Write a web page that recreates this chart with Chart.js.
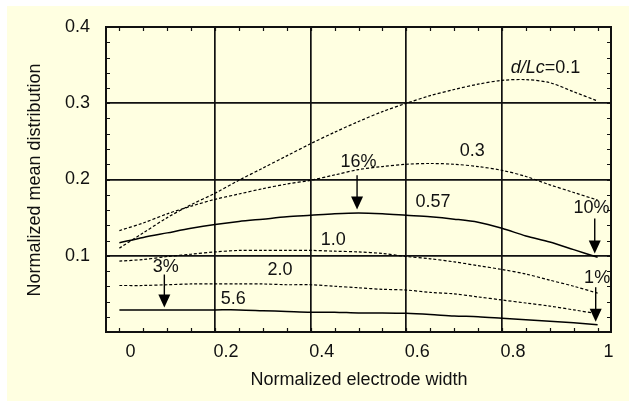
<!DOCTYPE html>
<html>
<head>
<meta charset="utf-8">
<script src="https://cdn.jsdelivr.net/npm/chart.js@4.4.1/dist/chart.umd.min.js"></script>
<style>
  html, body { margin: 0; padding: 0; background: #ffffff; }
  #wrap { width: 629px; height: 401px; position: relative; }
</style>
</head>
<body>
<div id="wrap"><canvas id="c" width="629" height="401"></canvas></div>
<script>
// ---------- data ----------
const xPositions = [0, 0.05, 0.1, 0.15, 0.2, 0.25, 0.3, 0.35, 0.4, 0.45, 0.5, 0.55, 0.6, 0.65, 0.7, 0.75, 0.8, 0.85, 0.9, 0.95, 1.0];
const seriesNames = ['0.1', '0.3', '0.57', '1.0', '2.0', '5.6'];
const curve01  = [0.110, 0.130, 0.150, 0.167, 0.182, 0.199, 0.215, 0.231, 0.247, 0.262, 0.276, 0.289, 0.300, 0.310, 0.318, 0.325, 0.330, 0.331, 0.327, 0.315, 0.303];
const curve03  = [0.133, 0.143, 0.155, 0.165, 0.174, 0.181, 0.188, 0.194, 0.199, 0.206, 0.213, 0.217, 0.220, 0.221, 0.220, 0.217, 0.212, 0.204, 0.193, 0.183, 0.173];
const curve057 = [0.117, 0.124, 0.130, 0.136, 0.141, 0.145, 0.148, 0.151, 0.153, 0.155, 0.156, 0.155, 0.153, 0.151, 0.148, 0.144, 0.136, 0.126, 0.118, 0.108, 0.098];
const curve10  = [0.093, 0.095, 0.099, 0.102, 0.105, 0.107, 0.107, 0.107, 0.107, 0.106, 0.105, 0.103, 0.099, 0.096, 0.092, 0.087, 0.082, 0.076, 0.068, 0.060, 0.051];
const curve20  = [0.061, 0.061, 0.062, 0.063, 0.063, 0.063, 0.063, 0.062, 0.062, 0.060, 0.058, 0.056, 0.055, 0.052, 0.050, 0.046, 0.042, 0.038, 0.034, 0.029, 0.024];
const curve56  = [0.029, 0.029, 0.029, 0.029, 0.029, 0.029, 0.028, 0.027, 0.026, 0.026, 0.025, 0.025, 0.0245, 0.023, 0.021, 0.020, 0.018, 0.016, 0.014, 0.012, 0.0096];
const xTickValues = [0, 0.2, 0.4, 0.6, 0.8, 1.0];
const yTickValues = [0, 0.1, 0.2, 0.3, 0.4];

// annotation texts and arrows (in data units)
const labelTexts = [
  { text: '0.3',  x: 0.738, y: 0.2376 },
  { text: '16%',  x: 0.500, y: 0.223 },
  { text: '0.57', x: 0.656, y: 0.170 },
  { text: '10%',  x: 0.987, y: 0.162 },
  { text: '1.0',  x: 0.447, y: 0.120 },
  { text: '3%',   x: 0.097, y: 0.085 },
  { text: '2.0',  x: 0.336, y: 0.0816 },
  { text: '5.6',  x: 0.238, y: 0.0434 },
  { text: '1%',   x: 0.999, y: 0.0705 }
];
const arrowList = [
  { x: 0.497, yTop: 0.2057, yTip: 0.1605 },
  { x: 0.994, yTop: 0.149,  yTip: 0.103 },
  { x: 0.094, yTop: 0.0754, yTip: 0.032 },
  { x: 0.996, yTop: 0.0587, yTip: 0.0136 }
];
const mainLabel = { x: 0.891, y: 0.346 };

// ---------- chart ----------
const FONT = '"Liberation Sans", Arial, Helvetica, sans-serif';
const TXT = '#111111';
const seriesData = [curve01, curve03, curve057, curve10, curve20, curve56];
const dashedFlags = [true, true, false, true, true, false];

const datasets = seriesData.map((arr, i) => ({
  label: seriesNames[i],
  data: xPositions.map((x, j) => ({ x: x, y: arr[j] })),
  showLine: true,
  borderColor: '#000',
  borderWidth: dashedFlags[i] ? 1.2 : 1.5,
  borderDash: dashedFlags[i] ? [3, 2] : [],
  pointRadius: 0,
  tension: 0.3,
  fill: false
}));

const bgPlugin = {
  id: 'bg',
  beforeDraw(chart) {
    const ctx = chart.ctx;
    ctx.save();
    ctx.fillStyle = '#ffffff';
    ctx.fillRect(0, 0, chart.width, chart.height);
    ctx.fillStyle = '#ffffe1';
    ctx.fillRect(7, 6, chart.width - 7, chart.height - 6);
    ctx.restore();
  }
};

const decoPlugin = {
  id: 'deco',
  afterDraw(chart) {
    const ctx = chart.ctx;
    const a = chart.chartArea;
    const xs = chart.scales.x, ys = chart.scales.y;
    ctx.save();
    // minor ticks inward
    ctx.strokeStyle = '#111';
    ctx.lineWidth = 1.2;
    ctx.beginPath();
    for (let k = 0; k <= 20; k++) {
      const px = Math.round(xs.getPixelForValue(k * 0.05)) + 0.5;
      ctx.moveTo(px, a.top); ctx.lineTo(px, a.top + 4);
      ctx.moveTo(px, a.bottom); ctx.lineTo(px, a.bottom - 4);
    }
    for (let k = 1; k < 20; k++) {
      const py = Math.round(ys.getPixelForValue(k * 0.02)) + 0.5;
      ctx.moveTo(a.left, py); ctx.lineTo(a.left + 4, py);
      ctx.moveTo(a.right, py); ctx.lineTo(a.right - 4, py);
    }
    ctx.stroke();
    // frame
    ctx.lineWidth = 2;
    ctx.strokeStyle = '#111';
    ctx.strokeRect(a.left, a.top, a.right - a.left, a.bottom - a.top);

    // labels
    ctx.fillStyle = TXT;
    ctx.textAlign = 'center';
    ctx.textBaseline = 'middle';
    ctx.font = '18px ' + FONT;
    labelTexts.forEach(l => {
      ctx.fillText(l.text, xs.getPixelForValue(l.x), ys.getPixelForValue(l.y));
    });
    // main label with italic part
    const p1 = 'd/Lc', p2 = '=0.1';
    ctx.font = 'italic 18px ' + FONT;
    const w1 = ctx.measureText(p1).width;
    ctx.font = '18px ' + FONT;
    const w2 = ctx.measureText(p2).width;
    const cx = xs.getPixelForValue(mainLabel.x), cy = ys.getPixelForValue(mainLabel.y);
    const sx = cx - (w1 + w2) / 2;
    ctx.textAlign = 'left';
    ctx.font = 'italic 18px ' + FONT;
    ctx.fillText(p1, sx, cy);
    ctx.font = '18px ' + FONT;
    ctx.fillText(p2, sx + w1, cy);

    // arrows
    ctx.fillStyle = '#000';
    ctx.strokeStyle = '#000';
    ctx.lineWidth = 1.4;
    arrowList.forEach(ar => {
      const px = xs.getPixelForValue(ar.x);
      const pt = ys.getPixelForValue(ar.yTop);
      const pb = ys.getPixelForValue(ar.yTip);
      ctx.beginPath();
      ctx.moveTo(px, pt); ctx.lineTo(px, pb - 12);
      ctx.stroke();
      ctx.beginPath();
      ctx.moveTo(px - 6, pb - 13);
      ctx.lineTo(px + 6, pb - 13);
      ctx.lineTo(px, pb);
      ctx.closePath();
      ctx.fill();
    });

    // axis titles
    ctx.fillStyle = TXT;
    ctx.font = '18px ' + FONT;
    ctx.textAlign = 'center';
    ctx.textBaseline = 'middle';
    ctx.fillText('Normalized electrode width', 359, 380);
    ctx.translate(35, 180);
    ctx.rotate(-Math.PI / 2);
    ctx.fillText('Normalized mean distribution', 0, 0);
    ctx.restore();
  }
};

new Chart(document.getElementById('c'), {
  type: 'scatter',
  data: { datasets },
  plugins: [bgPlugin, decoPlugin],
  options: {
    responsive: false,
    animation: false,
    events: [],
    layout: { padding: { top: 27, right: 18, left: 0, bottom: 0 } },
    plugins: { legend: { display: false }, tooltip: { enabled: false } },
    scales: {
      x: {
        type: 'linear',
        min: -0.028,
        max: 1.028,
        afterBuildTicks: s => { s.ticks = xTickValues.map(v => ({ value: v })); },
        afterFit: s => { s.height = 69; },
        ticks: {
          autoSkip: false,
          maxRotation: 0,
          padding: 9,
          labelOffset: 11,
          color: TXT,
          font: { family: FONT, size: 18 },
          callback: v => (v === 0 ? '0' : v === 1 ? '1' : v.toFixed(1))
        },
        grid: {
          drawTicks: false,
          lineWidth: 1.7,
          color: c => (c.tick && c.tick.value > 0.01 && c.tick.value < 0.99 ? '#111' : 'rgba(0,0,0,0)')
        },
        border: { display: false }
      },
      y: {
        type: 'linear',
        min: 0,
        max: 0.4,
        afterBuildTicks: s => { s.ticks = yTickValues.map(v => ({ value: v })); },
        afterFit: s => { s.width = 106; },
        ticks: {
          padding: 16,
          color: TXT,
          font: { family: FONT, size: 18 },
          callback: v => (v === 0 ? '' : v.toFixed(1))
        },
        grid: {
          drawTicks: false,
          lineWidth: 1.7,
          color: c => (c.tick && c.tick.value > 0.01 && c.tick.value < 0.39 ? '#111' : 'rgba(0,0,0,0)')
        },
        border: { display: false }
      }
    }
  }
});
</script>
</body>
</html>
